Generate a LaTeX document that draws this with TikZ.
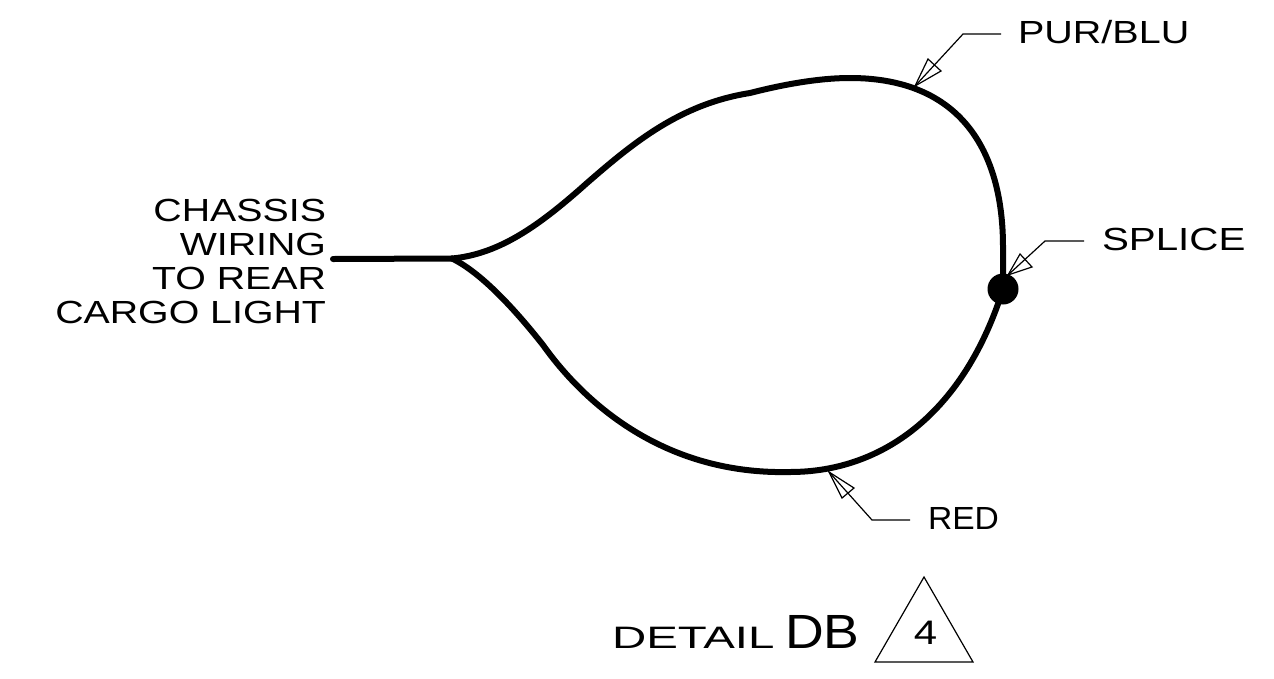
\documentclass[tikz,border=0pt]{standalone}
\usepackage{fontspec}
\setmainfont{Liberation Sans}
\newcommand{\lbl}[2]{\fontspec[FakeStretch=#1]{Liberation Sans}\fontsize{#2}{#2}\selectfont}
\tikzset{
  wire/.style={line width=6pt,line cap=round,line join=round},
  leader/.style={line width=1.2pt,line join=miter},
  tag/.style={inner sep=0pt,outer sep=0pt,anchor=base west,text=black},
  tagr/.style={inner sep=0pt,outer sep=0pt,anchor=base east,text=black}
}
\begin{document}
\begin{tikzpicture}[x=1pt,y=-1pt]
\useasboundingbox (0,0) rectangle (1274,678);
% wires
\coordinate (start) at (333,259);
\coordinate (fork) at (452,258.5);
\node[circle,fill=black,minimum size=31pt,inner sep=0pt] (splice) at (1003,289) {};
\draw[wire] (start) -- (fork);
\draw[wire] (fork) .. controls (500,254) and (540,225) .. (587,183)
  .. controls (633,143) and (680,104) .. (750,93)
  .. controls (785,84) and (820,78) .. (850,78)
  .. controls (960,78) and (1003,150) .. (1003,247)
  -- (splice.center);
\draw[wire] (fork) .. controls (480,272) and (513,307) .. (543,345)
  .. controls (585,404) and (665,475) .. (790,472)
  .. controls (885,472) and (965,410) .. (splice.center);
% labels
\node[tag] (pur) at (1018,43.5) {\lbl{1.235}{32}PUR/BLU};
\node[tag] (spl) at (1102,250) {\lbl{1.26}{32}SPLICE};
\node[tag] (red) at (928,529) {\lbl{1.05}{32}RED};
\node[tagr] (l1) at (326,221) {\lbl{1.228}{32}CHASSIS};
\node[tagr] (l2) at (326,255) {\lbl{1.228}{32}WIRING};
\node[tagr] (l3) at (326,289) {\lbl{1.228}{32}TO REAR};
\node[tagr] (l4) at (326,323) {\lbl{1.228}{32}CARGO LIGHT};
\node[tag] (det) at (612,648) {\lbl{1.53}{31}DETAIL};
\node[tag] (db) at (785,648) {\lbl{1.117}{48}DB};
\node[inner sep=0pt,anchor=base] (four) at (925.5,644) {\lbl{1.235}{34}4};
% leaders
\coordinate (ptip) at (915,86); \coordinate (pa) at (928,59); \coordinate (pb) at (941,71);
\coordinate (pk) at (963,34); \coordinate (pe) at (1001,34);
\draw[leader] (ptip) -- (pa) -- (pb) -- cycle;
\draw[leader] (ptip) -- (pk) -- (pe);
\coordinate (stip) at (1008,275); \coordinate (sa) at (1020,254); \coordinate (sb) at (1032,267);
\coordinate (sk) at (1045,241); \coordinate (se) at (1084,241);
\draw[leader] (stip) -- (sa) -- (sb) -- cycle;
\draw[leader] (stip) -- (sk) -- (se);
\coordinate (rtip) at (829,472); \coordinate (ra) at (854,488); \coordinate (rb) at (842,498);
\coordinate (rk) at (872,520); \coordinate (re) at (910,520);
\draw[leader] (rtip) -- (ra) -- (rb) -- cycle;
\draw[leader] (rtip) -- (rk) -- (re);
% triangle
\coordinate (ta) at (924,577); \coordinate (tb) at (875,662); \coordinate (tc) at (973,662);
\draw[leader] (ta) -- (tb) -- (tc) -- cycle;
\end{tikzpicture}
\end{document}
